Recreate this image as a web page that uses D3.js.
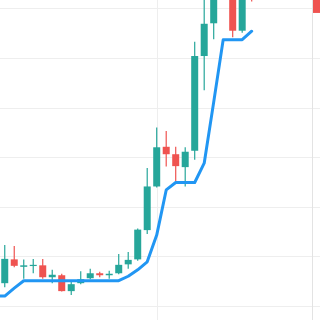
<!DOCTYPE html>
<html>
<head>
<meta charset="utf-8">
<script src="https://cdn.jsdelivr.net/npm/d3@7"></script>
<style>
  html, body { margin: 0; padding: 0; background: #fff; overflow: hidden; }
</style>
</head>
<body>
<div class="chart-container"></div>
<script>
// --- Data (bar index, OHLC, trailing stop line) ---
const barIndex = d3.range(-1, 27);
const opens  = [104.2, 104.6, 109.4, 107.9, 108.1, 108.2, 105.8, 106.2, 103.0, 104.6, 105.6, 106.6, 106.2, 106.6,
                108.4, 109.4, 115.3, 124.1, 132.1, 130.6, 128.0, 131.3, 150.4, 157.0, 166.0, 167.7, 155.5, 168.0];
const highs  = [111.3, 112.3, 112.1, 109.4, 109.5, 109.5, 107.3, 106.5, 104.9, 107.0, 107.5, 106.9, 107.1, 110.5,
                110.9, 115.6, 127.8, 136.0, 135.3, 132.1, 132.0, 153.3, 163.3, 169.8, 172.0, 173.8, 165.7, 170.0];
const lows   = [103.2, 103.8, 107.8, 105.5, 106.6, 105.5, 104.6, 102.9, 102.2, 104.4, 105.4, 105.8, 105.5, 106.4,
                107.5, 109.1, 114.5, 123.9, 128.1, 125.2, 124.1, 129.5, 143.5, 153.8, 163.0, 154.2, 155.1, 161.4];
const closes = [107.3, 109.5, 108.1, 108.2, 108.3, 105.8, 106.3, 103.0, 104.4, 105.4, 106.6, 106.2, 106.5, 108.3,
                109.3, 115.4, 124.1, 132.0, 130.6, 128.2, 131.1, 150.4, 156.9, 164.7, 170.0, 155.5, 163.7, 163.0];
const stopLine = [102.0, 102.0, 103.6, 105.1, 105.1, 105.1, 105.1, 105.1, 105.1, 105.1, 105.1, 105.1, 105.1, 105.1,
                  106.0, 107.3, 108.9, 114.3, 123.4, 124.9, 124.9, 124.9, 128.8, 141.1, 153.7, 153.7, 153.7, 155.4];
const priceTicks = [100, 110, 120, 130, 140, 150, 160];
const timeTicks = [16];
const lastPrice = 160.9;

const dimensions = { width: 320, height: 320, plotWidth: 312 };
const UP = "#26a69a", DOWN = "#ef5350", LINE = "#2196f3";

const x = d3.scaleLinear().domain([-0.5, 32.35]).range([0, dimensions.plotWidth]);
const y = d3.scaleLinear().domain([100, 160]).range([306, 8.4]);

const svg = d3.select(".chart-container").append("svg")
    .attr("width", dimensions.width)
    .attr("height", dimensions.height)
    .style("display", "block");

svg.append("defs").append("clipPath").attr("id", "plot")
    .append("rect").attr("x", 0).attr("y", 0)
    .attr("width", dimensions.plotWidth).attr("height", dimensions.height);

// grid
svg.append("g").selectAll("line").data(priceTicks).enter().append("line")
    .attr("x1", 0).attr("x2", dimensions.width)
    .attr("y1", d => Math.round(y(d)) + 0.5).attr("y2", d => Math.round(y(d)) + 0.5)
    .attr("stroke", "#eeeeee");

svg.append("g").selectAll("line").data(timeTicks).enter().append("line")
    .attr("x1", d => Math.round(x(d)) + 0.5).attr("x2", d => Math.round(x(d)) + 0.5)
    .attr("y1", 0).attr("y2", dimensions.height)
    .attr("stroke", "#eeeeee");

// price scale border
svg.append("line")
    .attr("x1", dimensions.plotWidth + 0.5).attr("x2", dimensions.plotWidth + 0.5)
    .attr("y1", 0).attr("y2", dimensions.height)
    .attr("stroke", "#e3e3e3");

const plot = svg.append("g").attr("clip-path", "url(#plot)");

const bars = barIndex.map((i, k) => ({ i, o: opens[k], h: highs[k], l: lows[k], c: closes[k] }));

const candle = plot.selectAll(".candle").data(bars).enter().append("g").attr("class", "candle");

candle.append("line")
    .attr("x1", d => x(d.i)).attr("x2", d => x(d.i))
    .attr("y1", d => y(d.h)).attr("y2", d => y(d.l))
    .attr("stroke", d => d.c >= d.o ? UP : DOWN)
    .attr("stroke-width", 1.2);

candle.append("rect")
    .attr("x", d => x(d.i) - 3.5)
    .attr("width", 7)
    .attr("y", d => y(Math.max(d.o, d.c)))
    .attr("height", d => Math.max(1.2, Math.abs(y(d.o) - y(d.c))))
    .attr("fill", d => d.c >= d.o ? UP : DOWN);

// trailing stop line
const line = d3.line().x((v, k) => x(barIndex[k])).y(v => y(v));
plot.append("path")
    .datum(stopLine)
    .attr("d", line)
    .attr("fill", "none")
    .attr("stroke", LINE)
    .attr("stroke-width", 3)
    .attr("stroke-linejoin", "round")
    .attr("stroke-linecap", "round");

// last price label on the price scale
svg.append("rect")
    .attr("x", dimensions.plotWidth + 1)
    .attr("y", y(lastPrice) - 9)
    .attr("width", 40).attr("height", 18)
    .attr("fill", DOWN);
</script>
</body>
</html>
